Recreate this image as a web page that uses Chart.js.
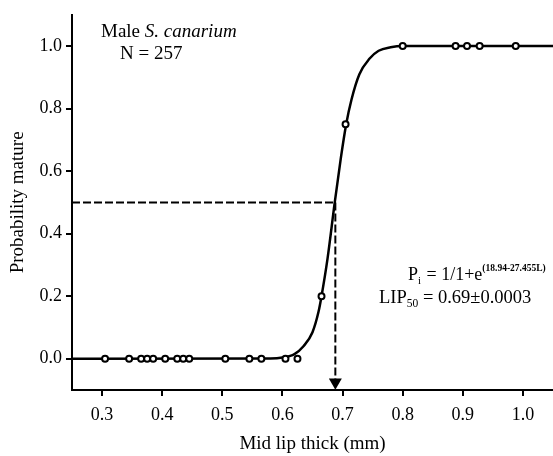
<!DOCTYPE html>
<html><head><meta charset="utf-8">
<script src="https://cdn.jsdelivr.net/npm/chart.js@4/dist/chart.umd.min.js"></script>
<style>html,body{margin:0;padding:0;background:#fff}#wrap{width:553px;height:456px}</style>
</head><body><div id="wrap"><canvas id="c" width="553" height="456"></canvas></div>
<script>
// ---- data ----
const xTicks = [0.3, 0.4, 0.5, 0.6, 0.7, 0.8, 0.9, 1.0];
const yTicks = [0.0, 0.2, 0.4, 0.6, 0.8, 1.0];
const obsL = [0.305, 0.345, 0.365, 0.375, 0.385, 0.405, 0.425, 0.435, 0.445, 0.505, 0.545, 0.565, 0.605, 0.625, 0.665, 0.705, 0.80, 0.888, 0.907, 0.928, 0.988];
const obsP = [0, 0, 0, 0, 0, 0, 0, 0, 0, 0, 0, 0, 0, 0, 0.20, 0.75, 1, 1, 1, 1, 1];
const curveL = [0.25, 0.58, 0.60, 0.62, 0.635, 0.65, 0.66, 0.665, 0.675, 0.687, 0.697, 0.706, 0.715, 0.728, 0.745, 0.76, 0.78, 0.80, 1.05];
const curveP = [0, 0.001, 0.004, 0.015, 0.04, 0.085, 0.15, 0.20, 0.32, 0.50, 0.64, 0.75, 0.83, 0.91, 0.96, 0.985, 0.996, 1.0, 1.0];
const lip50 = 0.688;
const pHalf = 0.5;
const xMin = 0.25, xMax = 1.05, yMin = -0.1, yMax = 1.1;
const arrowP = -0.075;
const labelMale = 'Male ';
const labelSpecies = 'S. canarium';
const labelN = 'N = 257';
const xTitle = 'Mid lip thick (mm)';
const yTitle = 'Probability mature';

const FONT = '"Liberation Serif", "Times New Roman", serif';

const textPlugin = {
  id: 'texts',
  afterDraw(chart) {
    const ctx = chart.ctx;
    ctx.save();
    ctx.fillStyle = '#000';
    ctx.textBaseline = 'alphabetic';
    ctx.textAlign = 'left';
    // top-left label
    ctx.font = '19px ' + FONT;
    let x = 101, y = 37;
    ctx.fillText(labelMale, x, y);
    x += ctx.measureText(labelMale).width;
    ctx.font = 'italic 19px ' + FONT;
    ctx.fillText(labelSpecies, x, y);
    ctx.font = '19px ' + FONT;
    ctx.fillText(labelN, 120, 59);
    // equation line 1
    x = 408; y = 280;
    ctx.font = '18px ' + FONT;
    ctx.fillText('P', x, y); x += ctx.measureText('P').width;
    ctx.font = '11px ' + FONT;
    ctx.fillText('i', x, y + 4); x += ctx.measureText('i').width + 1;
    ctx.font = '18px ' + FONT;
    ctx.fillText(' = 1/1+e', x, y); x += ctx.measureText(' = 1/1+e').width;
    ctx.font = 'bold 9.5px ' + FONT;
    ctx.fillText('(18.94-27.455L)', x, y - 9);
    // equation line 2
    x = 379; y = 303;
    ctx.font = '18.5px ' + FONT;
    ctx.fillText('LIP', x, y); x += ctx.measureText('LIP').width;
    ctx.font = '11.5px ' + FONT;
    ctx.fillText('50', x, y + 4); x += ctx.measureText('50').width;
    ctx.font = '18.5px ' + FONT;
    ctx.fillText(' = 0.69\u00B10.0003', x, y);
    ctx.restore();
  }
};

const ctx = document.getElementById('c').getContext('2d');
new Chart(ctx, {
  type: 'line',
  data: {
    datasets: [
      {
        label: 'observed',
        data: obsL.map((l, i) => ({x: l, y: obsP[i]})),
        showLine: false,
        pointStyle: 'circle',
        pointRadius: 3,
        pointBorderWidth: 2,
        pointBorderColor: '#000',
        pointBackgroundColor: '#fff'
      },
      {
        label: 'arrow',
        data: [{x: lip50, y: arrowP}],
        showLine: false,
        pointStyle: 'triangle',
        rotation: 180,
        pointRadius: 7.5,
        pointBorderWidth: 0,
        pointBorderColor: '#000',
        pointBackgroundColor: '#000'
      },
      {
        label: 'curve',
        data: curveL.map((l, i) => ({x: l, y: curveP[i]})),
        borderColor: '#000',
        borderWidth: 2.5,
        pointRadius: 0,
        cubicInterpolationMode: 'monotone',
        fill: false
      },
      {
        label: 'hdash',
        data: [{x: xMin, y: pHalf}, {x: lip50, y: pHalf}],
        borderColor: '#000',
        borderWidth: 2,
        borderDash: [8, 3],
        pointRadius: 0
      },
      {
        label: 'vdash',
        data: [{x: lip50, y: pHalf}, {x: lip50, y: arrowP + 0.01}],
        borderColor: '#000',
        borderWidth: 2,
        borderDash: [8, 3],
        pointRadius: 0
      }
    ]
  },
  options: {
    responsive: false,
    animation: false,
    devicePixelRatio: 1,
    layout: {autoPadding: false, padding: {top: 10, right: 0, left: 0, bottom: 0}},
    plugins: {legend: {display: false}, tooltip: {enabled: false}},
    scales: {
      x: {
        type: 'linear', position: 'bottom', min: xMin, max: xMax,
        border: {display: true, color: '#000', width: 2},
        grid: {drawOnChartArea: false, drawTicks: true, tickLength: 6, color: '#000', lineWidth: 2},
        ticks: {color: '#000', font: {family: FONT, size: 18}, padding: 8, maxRotation: 0,
                callback: v => Number(v).toFixed(1)},
        afterBuildTicks: s => { s.ticks = xTicks.map(v => ({value: v})); },
        afterFit: s => { s.height = 66; },
        title: {display: true, text: xTitle, color: '#000', font: {family: FONT, size: 19}, padding: {top: 0, bottom: 1}}
      },
      y: {
        type: 'linear', position: 'left', min: yMin, max: yMax,
        border: {display: true, color: '#000', width: 2},
        grid: {drawOnChartArea: false, drawTicks: true, tickLength: 6, color: '#000', lineWidth: 2},
        ticks: {color: '#000', font: {family: FONT, size: 18}, padding: 4,
                callback: v => Number(v).toFixed(1)},
        afterBuildTicks: s => { s.ticks = yTicks.map(v => ({value: v})); },
        afterFit: s => { s.width = 72; },
        title: {display: true, text: yTitle, color: '#000', font: {family: FONT, size: 19}, padding: {top: 7, bottom: 0}}
      }
    }
  },
  plugins: [textPlugin]
});
</script>
</body></html>
